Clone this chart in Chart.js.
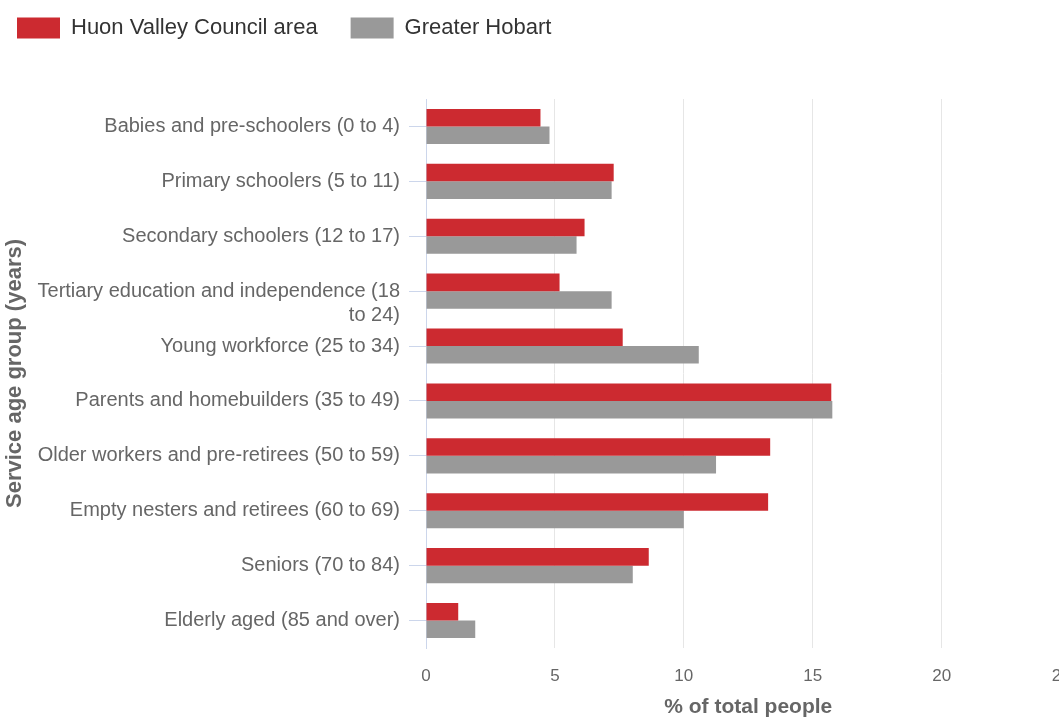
<!DOCTYPE html>
<html>
<head>
<meta charset="utf-8">
<script src="https://cdn.jsdelivr.net/npm/chart.js@4.4.0/dist/chart.umd.min.js"></script>
<style>
  html, body { margin: 0; padding: 0; background: #fff; overflow: hidden; }
  #wrap { position: absolute; left: -16px; top: -16px; }
</style>
</head>
<body>
<div id="wrap"><canvas id="ageChart" width="1114" height="736"></canvas></div>
<script>
// Service age groups (years)
const categories = [
  "Babies and pre-schoolers (0 to 4)",
  "Primary schoolers (5 to 11)",
  "Secondary schoolers (12 to 17)",
  ["Tertiary education and independence (18", "to 24)"],
  "Young workforce (25 to 34)",
  "Parents and homebuilders (35 to 49)",
  "Older workers and pre-retirees (50 to 59)",
  "Empty nesters and retirees (60 to 69)",
  "Seniors (70 to 84)",
  "Elderly aged (85 and over)"
];
const huonValley = [4.44, 7.28, 6.15, 5.18, 7.63, 15.72, 13.35, 13.27, 8.64, 1.25];
const greaterHobart = [4.79, 7.2, 5.84, 7.2, 10.58, 15.76, 11.25, 10.0, 8.02, 1.91];
const xMin = 0;
const xMax = 25;
const xStep = 5;

const FONT = "'Liberation Sans', Arial, sans-serif";

// push the plot down below the legend
const legendGap = {
  id: "legendGap",
  beforeInit(chart) {
    const fit = chart.legend.fit;
    chart.legend.fit = function () {
      fit.call(this);
      this.height = 115;
    };
  }
};

// last x label tucked inside the plot, wrapped y labels start at the tick
const labelTweaks = {
  id: "labelTweaks",
  beforeDraw(chart) {
    const xItems = chart.scales.x.getLabelItems();
    const last = xItems[xItems.length - 1];
    if (last) last.options.textAlign = "right";
    chart.scales.y.getLabelItems().forEach((item) => {
      if (Array.isArray(item.label)) item.textOffset = 0;
    });
  }
};

const ctx = document.getElementById("ageChart").getContext("2d");
const ageChart = new Chart(ctx, {
  type: "bar",
  data: {
    labels: categories,
    datasets: [
      {
        label: "Huon Valley Council area",
        data: huonValley,
        backgroundColor: "rgb(204, 42, 48)",
        borderWidth: 0,
      },
      {
        label: "Greater Hobart",
        data: greaterHobart,
        backgroundColor: "#999999",
        borderWidth: 0,
      },
    ],
  },
  options: {
    indexAxis: "y",
    responsive: false,
    animation: false,
    layout: { padding: { right: 15, bottom: 0 } },
    datasets: {
      bar: { categoryPercentage: 0.64, barPercentage: 1 },
    },
    scales: {
      x: {
        min: xMin,
        max: xMax,
        afterFit(scale) {
          scale.height = 72;
        },
        ticks: { stepSize: xStep, color: "#666666", padding: 18, font: { family: FONT, size: 17 } },
        grid: { color: "#e6e6e6", drawTicks: false },
        border: { display: false },
        title: {
          display: true,
          text: "% of total people",
          color: "#666666",
          font: { family: FONT, size: 21, weight: "bold" },
          padding: { top: 0, bottom: 0 },
        },
      },
      y: {
        afterFit(scale) {
          scale.width = 442;
        },
        ticks: { color: "#666666", padding: 9, font: { family: FONT, size: 20, lineHeight: 1.2 } },
        grid: { offset: false, drawOnChartArea: false, drawTicks: true, tickLength: 17, color: "#ccd6eb" },
        border: { color: "#ccd6eb", width: 1 },
        title: {
          display: true,
          text: "Service age group (years)",
          color: "#666666",
          font: { family: FONT, size: 22, weight: "bold" },
          padding: { top: 18, bottom: 0 },
        },
      },
    },
    plugins: {
      legend: {
        position: "top",
        align: "start",
        labels: {
          boxWidth: 43,
          boxHeight: 21,
          padding: 33,
          color: "#333333",
          font: { family: FONT, size: 22 },
        },
      },
      tooltip: { enabled: false },
    },
  },
  plugins: [legendGap, labelTweaks],
});
</script>
</body>
</html>
